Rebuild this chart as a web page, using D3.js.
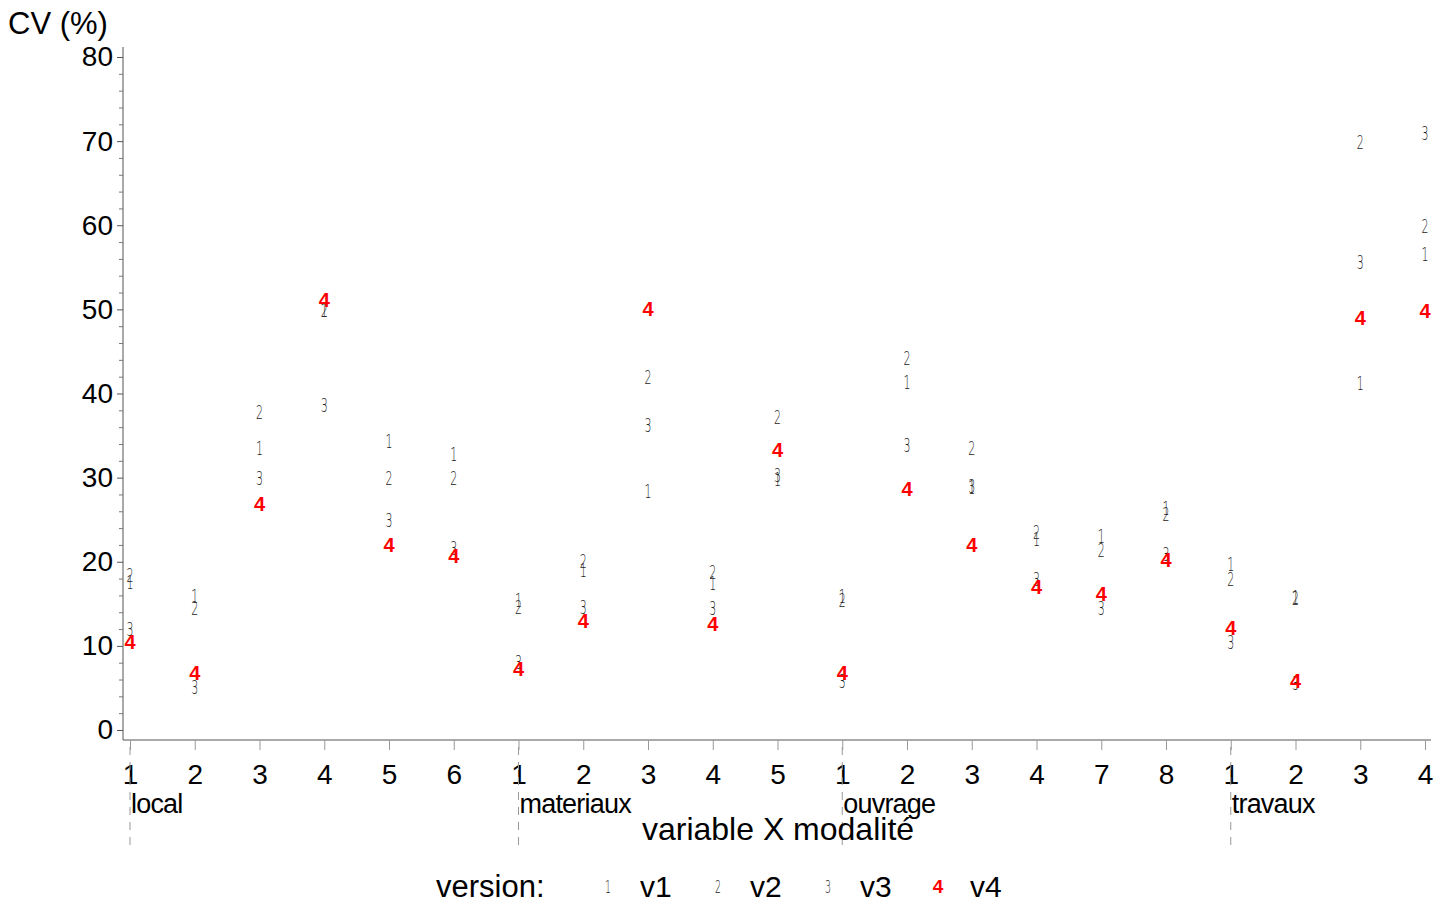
<!DOCTYPE html>
<html>
<head>
<meta charset="utf-8">
<script src="https://cdn.jsdelivr.net/npm/d3@7"></script>
<style>
  body { margin: 0; background: #fff; }
  text { font-family: "Liberation Sans", Arial, sans-serif; }
</style>
</head>
<body>
<div id="chart"></div>
<script>
// categories: variable and modalité
var variables = ["local","local","local","local","local","local",
                 "materiaux","materiaux","materiaux","materiaux","materiaux",
                 "ouvrage","ouvrage","ouvrage","ouvrage","ouvrage","ouvrage",
                 "travaux","travaux","travaux","travaux"];
var modalites = ["1","2","3","4","5","6",
                 "1","2","3","4","5",
                 "1","2","3","4","7","8",
                 "1","2","3","4"];
// CV (%) per version
var v1 = [17.6,16.0,33.6,50.0,34.4,32.8, 15.5,19.1,28.4,17.5,29.8, 15.9,41.4,28.9,22.7,23.1,26.4, 19.7,15.8,41.3,56.6];
var v2 = [18.4,14.5,37.8,50.0,30.0,30.0, 14.7,20.1,42.0,18.8,37.2, 15.5,44.2,33.5,23.5,21.4,25.7, 18.0,15.7,69.9,59.9];
var v3 = [12.0, 5.1,30.0,38.6,25.0,21.6,  8.1,14.6,36.3,14.5,30.3,  5.9,33.9,29.0,18.0,14.5,20.9, 10.5, 5.6,55.6,71.0];
var v4 = [10.5, 6.8,26.9,51.1,22.0,20.7,  7.3,13.0,50.1,12.6,33.3,  6.8,28.7,22.0,17.0,16.2,20.2, 12.2, 5.8,49.0,49.8];
var versions = ["v1","v2","v3","v4"];
var yTicks = [0,10,20,30,40,50,60,70,80];

var margin = {top: 47, right: 17, bottom: 165, left: 123},
    width = 1449 - margin.left - margin.right,
    height = 905 - margin.top - margin.bottom;

var svg = d3.select("#chart").append("svg")
    .attr("width", 1449)
    .attr("height", 905);

var g = svg.append("g")
    .attr("transform", "translate(" + margin.left + "," + margin.top + ")");

var idx = d3.range(modalites.length);
var x = d3.scalePoint().domain(idx).range([7, width - 7]);
var y = d3.scaleLinear().domain([0, 80]).range([683, 10]);

// y axis
var yAxis = g.append("g").call(d3.axisLeft(y).tickValues(yTicks).tickSize(6).tickPadding(4));
yAxis.selectAll("text").style("font-size", "28px").attr("fill", "#000");
yAxis.select(".domain").attr("d", "M0,0V693").attr("stroke", "#555");
yAxis.selectAll(".tick line").attr("stroke", "#555");
g.append("g").call(d3.axisLeft(y).tickValues(d3.range(0, 81, 2).filter(function(d){ return d % 10; })).tickSize(4).tickFormat(""))
  .call(function(s){ s.select(".domain").remove(); s.selectAll("line").attr("stroke", "#777"); });

// x axis
var xAxis = g.append("g").attr("transform", "translate(0,693)")
  .call(d3.axisBottom(x).tickSize(10).tickPadding(14).tickFormat(function(i){ return modalites[i]; }));
xAxis.select(".domain").attr("d", "M0,0H" + (width - 1)).attr("stroke", "#555");
xAxis.selectAll(".tick line").attr("stroke", "#999");
xAxis.selectAll("text").style("font-size", "28px").attr("fill", "#000");

// group labels with dashed separators
var starts = idx.filter(function(i){ return i === 0 || variables[i] !== variables[i-1]; });
starts.forEach(function(i){
  g.append("line").attr("x1", x(i)).attr("x2", x(i)).attr("y1", 700).attr("y2", 802)
    .attr("stroke", "#999").attr("stroke-dasharray", "8,7");
  g.append("text").attr("x", x(i) + 1).attr("y", 766).style("font-size", "27px")
    .attr("letter-spacing", "-0.8px").text(variables[i]);
});

g.append("text").attr("x", 655).attr("y", 793).attr("text-anchor", "middle")
  .style("font-size", "32px").text("variable X modalité");

svg.append("text").attr("x", 8).attr("y", 34).style("font-size", "31px").text("CV (%)");

// points drawn as version symbols
var series = [v1, v2, v3, v4];
series.forEach(function(vals, k){
  var red = k === 3;
  g.selectAll(".pt" + k).data(vals).enter().append("text")
    .attr("class", "pt" + k)
    .attr("x", function(d, i){ return x(i); })
    .attr("y", function(d){ return y(d); })
    .attr("dy", "0.36em")
    .attr("text-anchor", "middle")
    .attr("fill", red ? "#ff0000" : "#222")
    .style("font-family", red ? "'Liberation Sans', Arial" : "'DejaVu Sans', sans-serif")
    .style("font-weight", red ? "bold" : "200")
    .style("font-size", red ? "20px" : "20px")
    .attr("transform", function(d, i){
      return red ? null : "translate(" + x(i) + "," + y(d) + ") scale(0.55,1) translate(" + (-x(i)) + "," + (-y(d)) + ")";
    })
    .text(k + 1);
});

// legend
var leg = svg.append("g").attr("transform", "translate(0,886)");
leg.append("text").attr("x", 436).attr("y", 11).style("font-size", "31px").text("version:");
versions.forEach(function(v, k){
  var lx = 608 + k * 110;
  var red = k === 3;
  leg.append("text").attr("x", lx).attr("y", 7)
    .attr("text-anchor", "middle")
    .attr("fill", red ? "#ff0000" : "#222")
    .style("font-family", red ? "'Liberation Sans', Arial" : "'DejaVu Sans', sans-serif")
    .style("font-weight", red ? "bold" : "200")
    .style("font-size", red ? "19px" : "17px")
    .attr("transform", red ? null : "translate(" + lx + ",0) scale(0.55,1) translate(" + (-lx) + ",0)")
    .text(k + 1);
  leg.append("text").attr("x", lx + 32).attr("y", 11).style("font-size", "30px").text(v);
});
</script>
</body>
</html>
